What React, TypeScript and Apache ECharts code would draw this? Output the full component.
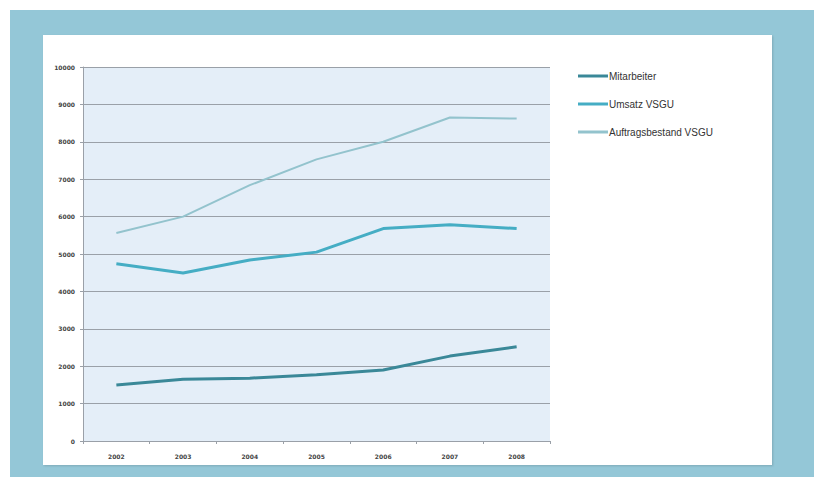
import React, { useEffect, useRef } from "react";
import * as echarts from "echarts";

const categories = ["2002", "2003", "2004", "2005", "2006", "2007", "2008"];
const mitarbeiter = [1500, 1650, 1680, 1770, 1900, 2270, 2520];
const umsatz = [4740, 4490, 4840, 5050, 5680, 5780, 5680];
const auftragsbestand = [5560, 6000, 6840, 7530, 8000, 8650, 8620];
const seriesNames = ["Mitarbeiter", "Umsatz VSGU", "Auftragsbestand VSGU"];
const seriesColors = ["#3a8898", "#45adc4", "#93c3cd"];

export default function App() {
  const ref = useRef<HTMLDivElement>(null);
  useEffect(() => {
    if (!ref.current) return;
    const chart = echarts.init(ref.current, null, { renderer: "svg" });
    const data = [mitarbeiter, umsatz, auftragsbestand];
    const widths = [3, 3, 2];
    chart.setOption({
      animation: false,
      backgroundColor: "transparent",
      grid: {
        left: 83,
        top: 67,
        right: 264,
        bottom: 36,
        show: true,
        backgroundColor: "#e4eef8",
        borderWidth: 0,
      },
      legend: {
        orient: "vertical",
        left: 573,
        top: 66,
        itemWidth: 30,
        itemHeight: 3,
        itemGap: 18,
        icon: "rect",
        textStyle: { fontSize: 10, color: "#333", fontFamily: "Liberation Sans", padding: [0, 0, 0, -4] },
        data: seriesNames,
      },
      xAxis: {
        type: "category",
        data: categories,
        boundaryGap: true,
        axisLine: { lineStyle: { color: "#9aa0a8" } },
        axisTick: { show: true, length: 3, lineStyle: { color: "#9aa0a8" } },
        axisLabel: { fontSize: 6, fontWeight: "bold", color: "#444", margin: 12, fontFamily: "DejaVu Sans" },
      },
      yAxis: {
        type: "value",
        min: 0,
        max: 10000,
        interval: 1000,
        axisLine: { show: true, lineStyle: { color: "#9aa0a8" } },
        axisTick: { show: true, length: 3, lineStyle: { color: "#9aa0a8" } },
        splitLine: { lineStyle: { color: "#9aa0a8", width: 1 } },
        axisLabel: {
          fontSize: 6,
          fontWeight: "bold",
          color: "#444",
          margin: 8,
          fontFamily: "DejaVu Sans",
          formatter: (v: number) => String(v),
        },
      },
      series: seriesNames.map((name, i) => ({
        name,
        type: "line",
        data: data[i],
        symbol: "none",
        smooth: false,
        lineStyle: { color: seriesColors[i], width: widths[i] },
        itemStyle: { color: seriesColors[i] },
      })),
    });
    return () => chart.dispose();
  }, []);
  return (
    <div style={{ position: "absolute", left: 0, top: 0, width: 814, height: 477, background: "#ffffff" }}>
      <div style={{ position: "absolute", left: 10, top: 10, width: 804, height: 467, background: "#94c7d7" }} />
      <div style={{ position: "absolute", left: 43, top: 35, width: 729, height: 430, background: "#ffffff", boxShadow: "1px 1px 2px rgba(0,0,0,0.15)" }} />
      <div ref={ref} style={{ position: "absolute", left: 0, top: 0, width: 814, height: 477 }} />
    </div>
  );
}
